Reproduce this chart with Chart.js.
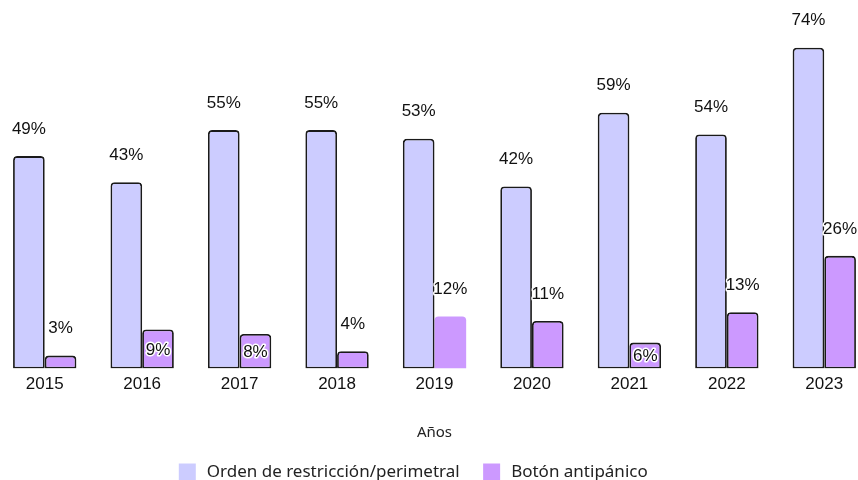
<!DOCTYPE html>
<html>
<head>
<meta charset="utf-8">
<script src="https://cdn.jsdelivr.net/npm/chart.js@4"></script>
<style>
  html, body { margin: 0; padding: 0; background: #fff; overflow: hidden; }
  #wrap { position: absolute; left: -49px; top: 0; width: 922px; height: 493px; }
</style>
</head>
<body>
<div id="wrap"><canvas id="grafico" width="922" height="493"></canvas></div>
<script>
const anios = ["2015", "2016", "2017", "2018", "2019", "2020", "2021", "2022", "2023"];
const ordenRestriccion = [49, 43, 55, 55, 53, 42, 59, 54, 74];
const botonAntipanico = [3, 9, 8, 4, 12, 11, 6, 13, 26];
const nombresSeries = ["Orden de restricción/perimetral", "Botón antipánico"];
const tituloEjeX = "Años";

// etiquetas que van dentro de la barra en vez de arriba
const etiquetasCentradas = { 1: [1, 2, 6] };

const pluginEtiquetas = {
  id: "etiquetasPorcentaje",
  afterDatasetsDraw(chart) {
    const ctx = chart.ctx;
    ctx.save();
    ctx.font = "17px 'Liberation Sans', Arial, sans-serif";
    ctx.textAlign = "center";
    ctx.textBaseline = "middle";
    ctx.lineJoin = "round";
    chart.data.datasets.forEach((ds, i) => {
      const meta = chart.getDatasetMeta(i);
      const centradas = etiquetasCentradas[i] || [];
      meta.data.forEach((barra, j) => {
        const texto = ds.data[j] + "%";
        let y = barra.y - 27;
        if (centradas.includes(j)) y = (barra.y + barra.base) / 2 + 1;
        ctx.lineWidth = 3;
        ctx.strokeStyle = "#fff";
        ctx.strokeText(texto, barra.x, y);
        ctx.fillStyle = "#111";
        ctx.fillText(texto, barra.x, y);
      });
    });
    ctx.restore();
  },
};

new Chart(document.getElementById("grafico"), {
  type: "bar",
  data: {
    labels: anios,
    datasets: [
      {
        label: nombresSeries[0],
        data: ordenRestriccion,
        backgroundColor: "#ccccff",
        borderColor: "#1a1a1a",
        borderWidth: 1.8,
        borderSkipped: false,
        borderRadius: { topLeft: 4, topRight: 4, bottomLeft: 0, bottomRight: 0 },
      },
      {
        label: nombresSeries[1],
        data: botonAntipanico,
        backgroundColor: "#cc99ff",
        borderColor: "#1a1a1a",
        borderWidth: (c) => (c.dataIndex === 4 ? 0 : 1.8),
        borderSkipped: false,
        borderRadius: { topLeft: 4, topRight: 4, bottomLeft: 0, bottomRight: 0 },
      },
    ],
  },
  options: {
    responsive: false,
    animation: false,
    categoryPercentage: 0.65,
    barPercentage: 1,
    layout: { padding: 0 },
    plugins: {
      tooltip: { enabled: false },
      legend: {
        position: "bottom",
        labels: {
          boxWidth: 22,
          boxHeight: 22,
          padding: 21,
          color: "#222",
          font: { family: "'Noto Sans', sans-serif", size: 17 },
          generateLabels(chart) {
            const items = Chart.defaults.plugins.legend.labels.generateLabels(chart);
            items.forEach((it) => { it.lineWidth = 5; it.strokeStyle = "#fff"; });
            return items;
          },
        },
      },
    },
    scales: {
      x: {
        grid: { display: false, drawTicks: false },
        border: { display: false },
        ticks: { color: "#111", font: { family: "'Liberation Sans', Arial, sans-serif", size: 17 }, padding: 6 },
        title: {
          display: true,
          text: tituloEjeX,
          color: "#222",
          font: { family: "'Noto Sans', sans-serif", size: 15 },
          padding: { top: 23, bottom: -2 },
        },
      },
      y: {
        min: 0,
        max: 85,
        grid: { display: false, drawTicks: false },
        border: { display: false },
        ticks: { display: false },
        afterFit(scale) { scale.width = 45; },
      },
    },
  },
  plugins: [pluginEtiquetas],
});
</script>
</body>
</html>
